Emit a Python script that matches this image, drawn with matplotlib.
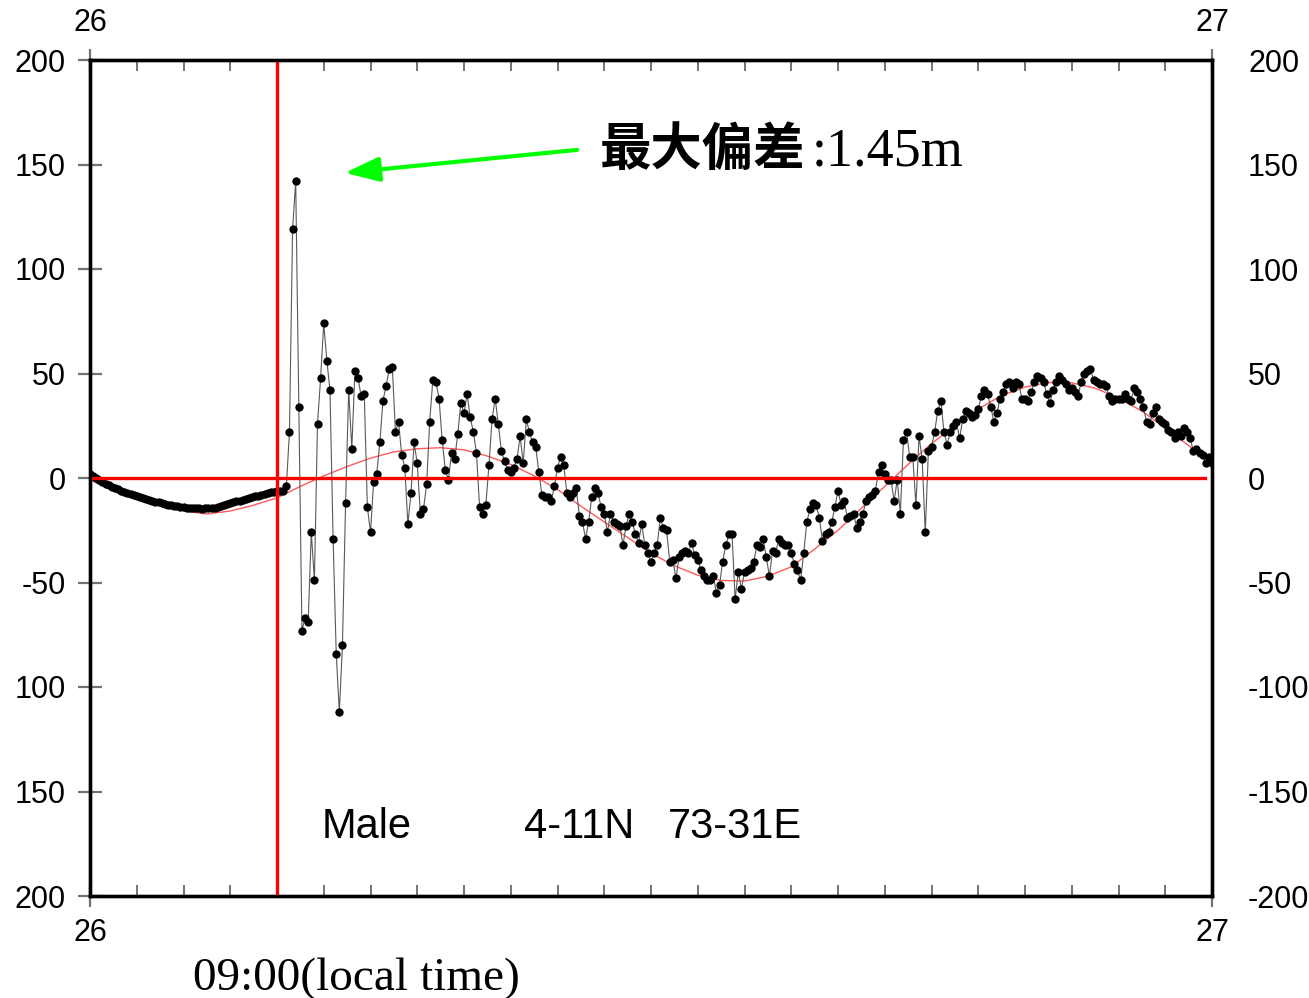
import numpy as np
import matplotlib.pyplot as plt

plt.rcParams['axes.unicode_minus'] = False

# observed sea level deviation (cm), one sample every 4 minutes from 26 00:00
level = [
    2, 1, 0, -1, -2, -2.8, -3.5, -4.2, -4.9, -5.5,
    -6.1, -6.6, -7.2, -7.7, -8.2, -8.7, -9.2, -9.6, -10.1, -10.5,
    -10.9, -11.3, -11.7, -12.1, -12.5, -12.8, -13.1, -13.4, -13.6, -13.9,
    -14.1, -14.2, -14.3, -14.4, -14.5, -14.5, -14.6, -14.5, -14.5, -14.4,
    -14.2, -13.9, -13.5, -13.1, -12.6, -12.1, -11.6, -11.2, -10.8, -10.4,
    -10, -9.6, -9.2, -8.8, -8.4, -8.0, -7.6, -7.2, -6.8, -6.5,
    -6.2, -6.0, -6.0, -4,
    22, 119, 142, 34, -73, -67, -69, -26, -49, 26,
    48, 74, 56, 42, -29, -84, -112, -80, -12, 42,
    14, 51, 48, 39, 40, -14, -26, -2, 2, 17,
    37, 44, 52, 53, 22, 27, 11, 5, -22, -7,
    17, 7, -17, -15, -3, 27, 47, 46, 38, 18,
    4, -1, 12, 9, 21, 36, 31, 40, 29, 22,
    12, -14,
    -17, -13, 6, 28, 38, 26, 13, 8, 4, 3,
    5, 9, 20, 7, 28, 22, 17, 15, 3, -8,
    -9, -9, -11, -4, 5, 10, 6, -7, -9, -7,
    -5, -18, -21, -29, -21, -9, -5, -7, -14, -17,
    -26, -17, -21, -22, -23, -32, -23, -17, -21, -27,
    -31, -22, -32, -36, -40, -36, -32, -19, -24, -25,
    -40, -39, -48, -38, -36, -35, -36, -31, -37, -39,
    -44, -47, -49, -49, -47, -55,
    -51, -40, -32, -27, -27, -58, -45, -53, -45, -44,
    -43, -40, -32, -33, -29, -38, -47, -35, -36, -29,
    -31, -32, -32, -36, -41, -44, -49, -36, -21, -15,
    -12, -13, -19, -30, -27, -26, -21, -14, -6, -13,
    -11, -19, -18, -17, -24, -21, -17, -11, -9, -8,
    -6, 3, 6, 2, -1, -1, -11, -1, -17, 18,
    22, 10, 10, -13, 20, 9, -26, 13, 15, 22,
    32, 37, 22, 16, 22,
    25, 27, 19, 28, 32, 31, 29, 30, 33, 39,
    42, 40, 34, 27, 31, 38, 41, 45, 46, 43,
    46, 45, 38, 38, 37, 41, 46, 49, 48, 46,
    40, 36, 42, 46, 49, 47, 45, 42, 43, 41,
    39, 46, 50, 51, 52, 47, 46, 45, 45, 44,
    39, 37, 38, 38, 38, 40, 38, 37, 43, 41,
    38, 34, 27, 26, 31, 34, 28, 27, 26, 23,
    22, 19, 22, 20, 24, 22, 19, 13, 14, 12,
    11, 7, 10, 7,
]

# predicted tide (cm), every 30 minutes
tide = [
    -1, -5.5, -9.5, -13, -15.8, -17.2, -15.8, -13, -9.5, -4,
    1, 5.5, 9.5, 12.5, 14, 14.5, 13.5, 10.5, 6.5, 1,
    -5.5, -13.5, -21, -28.5, -36, -42, -46.5, -49, -49.3, -47,
    -42.5, -34, -25, -14.5, -4, 6.5, 16.5, 25, 33, 39.5,
    43.5, 45.7, 45.5, 43, 38.3, 32, 24, 15.5, 7,
]

y_ticks = [-200, -150, -100, -50, 0, 50, 100, 150, 200]
left_labels = ['200', '150', '100', '-50', '0', '50', '100', '150', '200']
right_labels = ['-200', '-150', '-100', '-50', '0', '50', '100', '150', '200']

onset_hour = 4      # 09:00 local time
day0 = 26

t_obs = day0 + np.arange(len(level)) * 4 / 60 / 24
t_tide = day0 + np.arange(len(tide)) * 0.5 / 24

W, H = 1309, 998
fig = plt.figure(figsize=(W / 100, H / 100), dpi=100)
ax = fig.add_axes([90 / W, 102 / H, 1122 / W, 836 / H])

ax.plot(t_tide, tide, color='#ff5a5a', lw=1.0, zorder=2)
ax.plot(t_obs, level, color='0.35', lw=0.8, marker='o', ms=6,
        mfc='black', mec='black', mew=0, zorder=3)
ax.axvline(day0 + onset_hour / 24, color='red', lw=2.4, zorder=5)
ax.plot([day0, day0 + 23.85 / 24], [0, 0], color='red', lw=2.4, zorder=5)

ax.set_xlim(day0, day0 + 1)
ax.set_ylim(-200, 200)

ax.set_xticks([day0, day0 + 1])
ax.set_xticklabels(['26', '27'])
ax.set_xticks(day0 + np.arange(1, 24) / 24, minor=True)
ax.tick_params(axis='x', which='major', direction='inout', length=16, width=1.6,
               color='0.45', top=True, labeltop=True, labelsize=22, pad=8)
ax.tick_params(axis='x', which='minor', direction='in', length=8, width=1.4,
               color='0.45', top=True)

ax.set_yticks(y_ticks)
ax.set_yticklabels(left_labels)
ax.tick_params(axis='y', direction='inout', length=17, width=1.6, color='0.45',
               right=True, labelsize=22, pad=9)

ax2 = ax.twinx()
ax2.set_ylim(-200, 200)
ax2.set_yticks(y_ticks)
ax2.set_yticklabels(right_labels)
ax2.tick_params(axis='y', length=0, labelsize=22, pad=26)

for a in (ax, ax2):
    for lbl in a.get_xticklabels() + a.get_yticklabels():
        lbl.set_family('Liberation Sans')
    for sp in a.spines.values():
        sp.set_linewidth(2.4)
        sp.set_color('black')

ax.annotate('', xy=(day0 + 5.45 / 24, 146), xytext=(day0 + 10.42 / 24, 157),
            arrowprops=dict(arrowstyle='-|>,head_length=1.4,head_width=0.5',
                            mutation_scale=15, color='#00ff00', lw=3,
                            shrinkA=0, shrinkB=0), zorder=6)


def px(x, y):
    return x / W, 1 - y / H


fig.text(*px(600, 165), '最大偏差', fontsize=37, fontweight='bold',
         family=['Noto Sans CJK SC', 'DejaVu Sans'], va='baseline')
fig.text(*px(812, 165), ':1.45m', fontsize=39, family='Liberation Serif',
         va='baseline')

fig.text(*px(322, 838), 'Male', fontsize=30, family='Liberation Sans', va='baseline')
fig.text(*px(524, 838), '4-11N', fontsize=30, family='Liberation Sans', va='baseline')
fig.text(*px(668, 838), '73-31E', fontsize=30, family='Liberation Sans', va='baseline')

fig.text(*px(193, 990), '09:00(local time)', fontsize=34, family='Liberation Serif',
         va='baseline')

fig.savefig('out.png', dpi=100)
